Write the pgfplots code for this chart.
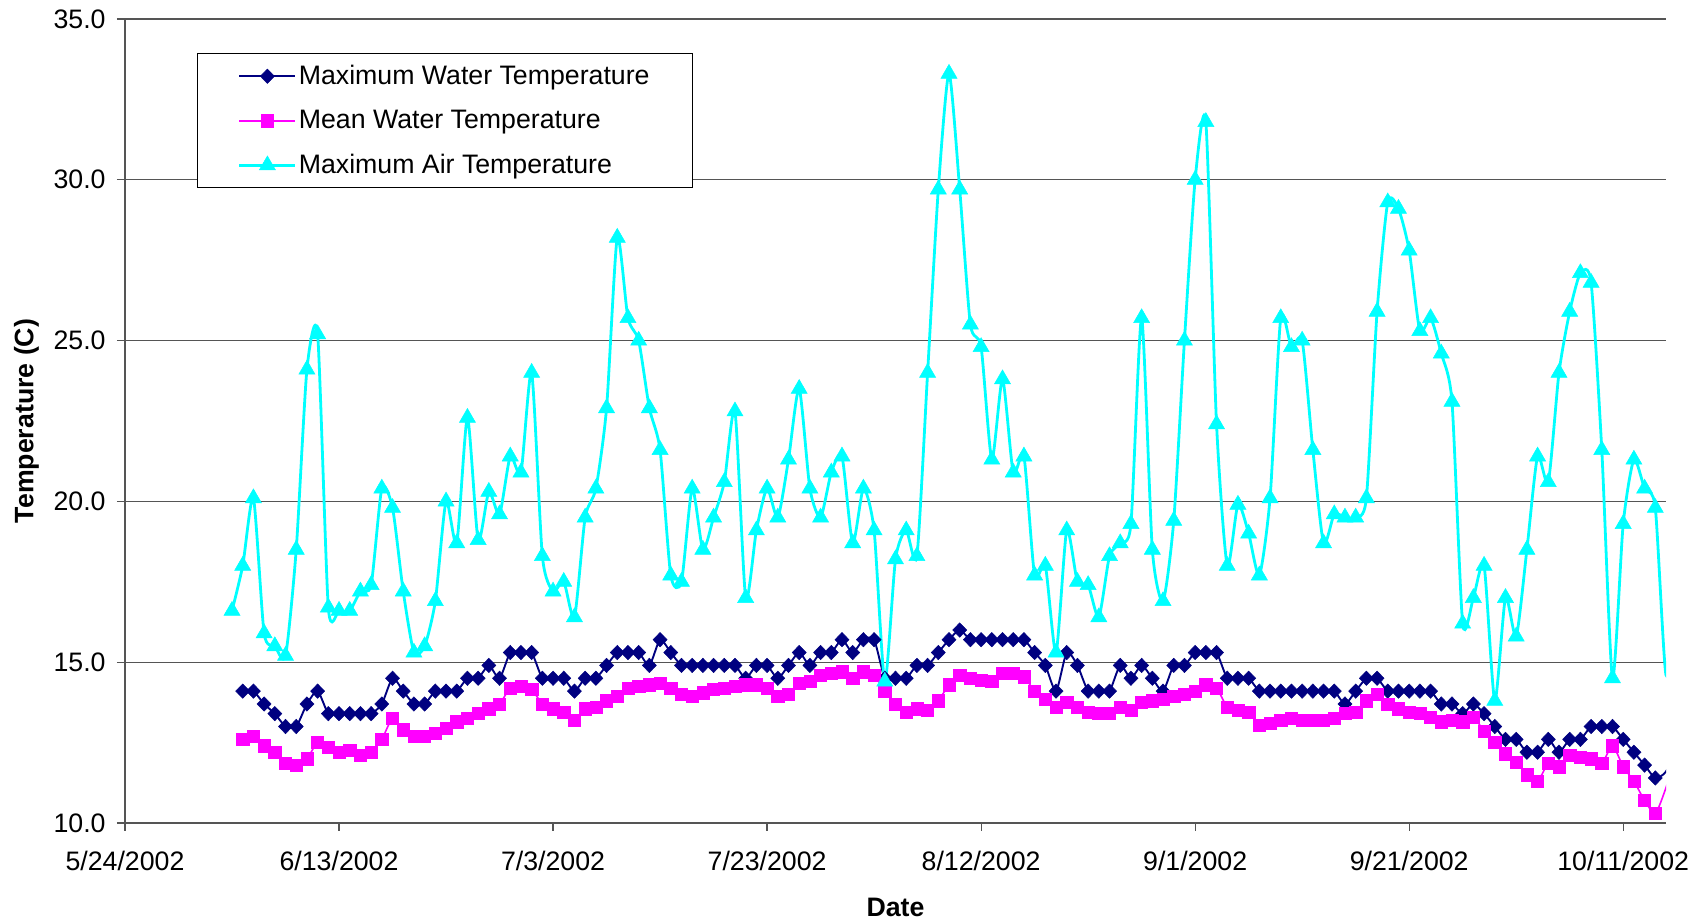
\documentclass[border=0pt]{standalone}
\usepackage{fontspec}
\setmainfont{Liberation Sans}
\usepackage{pgfplots}
\usepackage{pgfplotstable}
\pgfplotsset{compat=1.18}

\definecolor{navyc}{RGB}{0,0,128}
\definecolor{magc}{RGB}{255,0,255}
\definecolor{cyanc}{RGB}{0,255,255}
\definecolor{gridc}{RGB}{85,85,85}

% day = days after 5/24/2002, T = temperature in deg C
\pgfplotstableread[row sep=\\]{
d T\\
11 14.1\\ 12 14.1\\ 13 13.7\\ 14 13.4\\ 15 13.0\\ 16 13.0\\ 17 13.7\\ 18 14.1\\ 19 13.4\\ 20 13.4\\
21 13.4\\ 22 13.4\\ 23 13.4\\ 24 13.7\\ 25 14.5\\ 26 14.1\\ 27 13.7\\ 28 13.7\\ 29 14.1\\ 30 14.1\\
31 14.1\\ 32 14.5\\ 33 14.5\\ 34 14.9\\ 35 14.5\\ 36 15.3\\ 37 15.3\\ 38 15.3\\ 39 14.5\\ 40 14.5\\
41 14.5\\ 42 14.1\\ 43 14.5\\ 44 14.5\\ 45 14.9\\ 46 15.3\\ 47 15.3\\ 48 15.3\\ 49 14.9\\ 50 15.7\\
51 15.3\\ 52 14.9\\ 53 14.9\\ 54 14.9\\ 55 14.9\\ 56 14.9\\ 57 14.9\\ 58 14.5\\ 59 14.9\\ 60 14.9\\
61 14.5\\ 62 14.9\\ 63 15.3\\ 64 14.9\\ 65 15.3\\ 66 15.3\\ 67 15.7\\ 68 15.3\\ 69 15.7\\ 70 15.7\\
71 14.5\\ 72 14.5\\ 73 14.5\\ 74 14.9\\ 75 14.9\\ 76 15.3\\ 77 15.7\\ 78 16.0\\ 79 15.7\\ 80 15.7\\
81 15.7\\ 82 15.7\\ 83 15.7\\ 84 15.7\\ 85 15.3\\ 86 14.9\\ 87 14.1\\ 88 15.3\\ 89 14.9\\ 90 14.1\\
91 14.1\\ 92 14.1\\ 93 14.9\\ 94 14.5\\ 95 14.9\\ 96 14.5\\ 97 14.1\\ 98 14.9\\ 99 14.9\\ 100 15.3\\
101 15.3\\ 102 15.3\\ 103 14.5\\ 104 14.5\\ 105 14.5\\ 106 14.1\\ 107 14.1\\ 108 14.1\\ 109 14.1\\ 110 14.1\\
111 14.1\\ 112 14.1\\ 113 14.1\\ 114 13.7\\ 115 14.1\\ 116 14.5\\ 117 14.5\\ 118 14.1\\ 119 14.1\\ 120 14.1\\
121 14.1\\ 122 14.1\\ 123 13.7\\ 124 13.7\\ 125 13.4\\ 126 13.7\\ 127 13.4\\ 128 13.0\\ 129 12.6\\ 130 12.6\\
131 12.2\\ 132 12.2\\ 133 12.6\\ 134 12.2\\ 135 12.6\\ 136 12.6\\ 137 13.0\\ 138 13.0\\ 139 13.0\\ 140 12.6\\
141 12.2\\ 142 11.8\\ 143 11.4\\ 144 11.6\\ 145 12.4\\
}\maxwater

\pgfplotstableread[row sep=\\]{
d T\\
11 12.6\\ 12 12.7\\ 13 12.4\\ 14 12.2\\ 15 11.85\\ 16 11.8\\ 17 12.0\\ 18 12.5\\ 19 12.35\\ 20 12.2\\
21 12.25\\ 22 12.1\\ 23 12.2\\ 24 12.6\\ 25 13.25\\ 26 12.9\\ 27 12.7\\ 28 12.7\\ 29 12.8\\ 30 12.95\\
31 13.15\\ 32 13.25\\ 33 13.4\\ 34 13.55\\ 35 13.7\\ 36 14.2\\ 37 14.25\\ 38 14.15\\ 39 13.7\\ 40 13.55\\
41 13.45\\ 42 13.2\\ 43 13.55\\ 44 13.6\\ 45 13.8\\ 46 13.95\\ 47 14.2\\ 48 14.25\\ 49 14.3\\ 50 14.35\\
51 14.2\\ 52 14.0\\ 53 13.95\\ 54 14.05\\ 55 14.15\\ 56 14.2\\ 57 14.25\\ 58 14.3\\ 59 14.3\\ 60 14.2\\
61 13.95\\ 62 14.0\\ 63 14.35\\ 64 14.4\\ 65 14.6\\ 66 14.65\\ 67 14.7\\ 68 14.5\\ 69 14.7\\ 70 14.6\\
71 14.1\\ 72 13.7\\ 73 13.45\\ 74 13.55\\ 75 13.5\\ 76 13.8\\ 77 14.3\\ 78 14.6\\ 79 14.5\\ 80 14.45\\
81 14.4\\ 82 14.65\\ 83 14.65\\ 84 14.55\\ 85 14.1\\ 86 13.85\\ 87 13.6\\ 88 13.75\\ 89 13.6\\ 90 13.45\\
91 13.4\\ 92 13.4\\ 93 13.6\\ 94 13.5\\ 95 13.75\\ 96 13.8\\ 97 13.85\\ 98 13.95\\ 99 14.0\\ 100 14.1\\
101 14.3\\ 102 14.2\\ 103 13.6\\ 104 13.5\\ 105 13.45\\ 106 13.05\\ 107 13.1\\ 108 13.2\\ 109 13.25\\ 110 13.2\\
111 13.2\\ 112 13.2\\ 113 13.25\\ 114 13.4\\ 115 13.45\\ 116 13.8\\ 117 14.0\\ 118 13.7\\ 119 13.55\\ 120 13.45\\
121 13.4\\ 122 13.3\\ 123 13.15\\ 124 13.2\\ 125 13.15\\ 126 13.3\\ 127 12.85\\ 128 12.5\\ 129 12.15\\ 130 11.9\\
131 11.5\\ 132 11.3\\ 133 11.85\\ 134 11.75\\ 135 12.1\\ 136 12.05\\ 137 12.0\\ 138 11.85\\ 139 12.4\\ 140 11.75\\
141 11.3\\ 142 10.7\\ 143 10.3\\ 144 11.1\\ 145 12.2\\
}\meanwater

\pgfplotstableread[row sep=\\]{
d T\\
10 16.6\\ 11 18.0\\ 12 20.1\\ 13 15.9\\ 14 15.5\\ 15 15.2\\ 16 18.5\\ 17 24.1\\ 18 25.2\\ 19 16.7\\ 20 16.6\\
21 16.6\\ 22 17.2\\ 23 17.4\\ 24 20.4\\ 25 19.8\\ 26 17.2\\ 27 15.3\\ 28 15.5\\ 29 16.9\\ 30 20.0\\
31 18.7\\ 32 22.6\\ 33 18.8\\ 34 20.3\\ 35 19.6\\ 36 21.4\\ 37 20.9\\ 38 24.0\\ 39 18.3\\ 40 17.2\\
41 17.5\\ 42 16.4\\ 43 19.5\\ 44 20.4\\ 45 22.9\\ 46 28.2\\ 47 25.7\\ 48 25.0\\ 49 22.9\\ 50 21.6\\
51 17.7\\ 52 17.5\\ 53 20.4\\ 54 18.5\\ 55 19.5\\ 56 20.6\\ 57 22.8\\ 58 17.0\\ 59 19.1\\ 60 20.4\\
61 19.5\\ 62 21.3\\ 63 23.5\\ 64 20.4\\ 65 19.5\\ 66 20.9\\ 67 21.4\\ 68 18.7\\ 69 20.4\\ 70 19.1\\
71 14.4\\ 72 18.2\\ 73 19.1\\ 74 18.3\\ 75 24.0\\ 76 29.7\\ 77 33.3\\ 78 29.7\\ 79 25.5\\ 80 24.8\\
81 21.3\\ 82 23.8\\ 83 20.9\\ 84 21.4\\ 85 17.7\\ 86 18.0\\ 87 15.3\\ 88 19.1\\ 89 17.5\\ 90 17.4\\
91 16.4\\ 92 18.3\\ 93 18.7\\ 94 19.3\\ 95 25.7\\ 96 18.5\\ 97 16.9\\ 98 19.4\\ 99 25.0\\ 100 30.0\\
101 31.8\\ 102 22.4\\ 103 18.0\\ 104 19.9\\ 105 19.0\\ 106 17.7\\ 107 20.1\\ 108 25.7\\ 109 24.8\\ 110 25.0\\
111 21.6\\ 112 18.7\\ 113 19.6\\ 114 19.5\\ 115 19.5\\ 116 20.1\\ 117 25.9\\ 118 29.3\\ 119 29.1\\ 120 27.8\\
121 25.3\\ 122 25.7\\ 123 24.6\\ 124 23.1\\ 125 16.2\\ 126 17.0\\ 127 18.0\\ 128 13.8\\ 129 17.0\\ 130 15.8\\
131 18.5\\ 132 21.4\\ 133 20.6\\ 134 24.0\\ 135 25.9\\ 136 27.1\\ 137 26.8\\ 138 21.6\\ 139 14.5\\ 140 19.3\\
141 21.3\\ 142 20.4\\ 143 19.8\\ 144 14.6\\ 145 17.0\\
}\maxair

\begin{document}
\begin{tikzpicture}[font=\fontsize{7.6}{9.1}\selectfont]
\path[use as bounding box] (-12.5mm,-9.8mm) rectangle (157.7mm,82.3mm);
\begin{axis}[
  scale only axis, width=154.1mm, height=80.4mm,
  at={(0,0)}, anchor=south west,
  xmin=0, xmax=144, ymin=10, ymax=35,
  xtick={0,20,...,140},
  xticklabels={5/24/2002,6/13/2002,7/3/2002,7/23/2002,8/12/2002,9/1/2002,9/21/2002,10/11/2002},
  ytick={10,15,...,35},
  scaled y ticks=false,
  yticklabel style={xshift=0.1mm, /pgf/number format/.cd, fixed, fixed zerofill, precision=1, assume math mode=true},
  xticklabel style={yshift=-0.8mm},
  axis x line*=bottom, axis y line*=left,
  axis line style={-, draw=gridc, line width=0.12mm},
  tick align=outside, major tick length=0.8mm,
  tick style={draw=gridc, line width=0.12mm},
  ymajorgrids, major grid style={draw=gridc, line width=0.12mm},
  xlabel={Date}, ylabel={Temperature (C)},
  xlabel style={at={(axis description cs:0.5,-0.1045)}, anchor=center, font=\fontsize{7.6}{9.1}\selectfont\bfseries},
  ylabel style={at={(axis description cs:-0.064,0.5)}, anchor=center, font=\fontsize{7.6}{9.1}\selectfont\bfseries},
  legend cell align=left,
  legend image code/.code={%
    \draw (0mm,0mm) -- (5.6mm,0mm);
    \draw plot coordinates {(2.8mm,0mm)};},
  legend style={at={(rel axis cs:0.0464,0.9577)}, anchor=north west,
    draw=black, line width=0.1mm, fill=white,
    inner xsep=4.1mm, inner ysep=1.0mm, row sep=1.9mm,
    nodes={inner xsep=0.2mm, inner ysep=0mm, text height=2.1mm, text depth=0.45mm}},
  smooth, tension=0.4,
]
\addplot[color=navyc, line width=0.19mm, mark=diamond*, mark size=0.72mm,
  mark indices={1,...,133},
  mark options={xscale=1.3, line width=0.05mm, fill=navyc, draw=navyc, solid}]
  table[x=d, y=T] {\maxwater};
\addlegendentry{Maximum Water Temperature}
\addplot[color=magc, line width=0.16mm, mark=square*, mark size=0.61mm,
  mark indices={1,...,133},
  mark options={line width=0.05mm, fill=magc, draw=magc, solid}]
  table[x=d, y=T] {\meanwater};
\addlegendentry{Mean Water Temperature}
\addplot[color=cyanc, line width=0.28mm, mark=triangle*, mark size=0.93mm,
  mark indices={1,...,134},
  mark options={line width=0.05mm, fill=cyanc, draw=cyanc, solid}]
  table[x=d, y=T] {\maxair};
\addlegendentry{Maximum Air Temperature}
\end{axis}
\end{tikzpicture}
\end{document}
